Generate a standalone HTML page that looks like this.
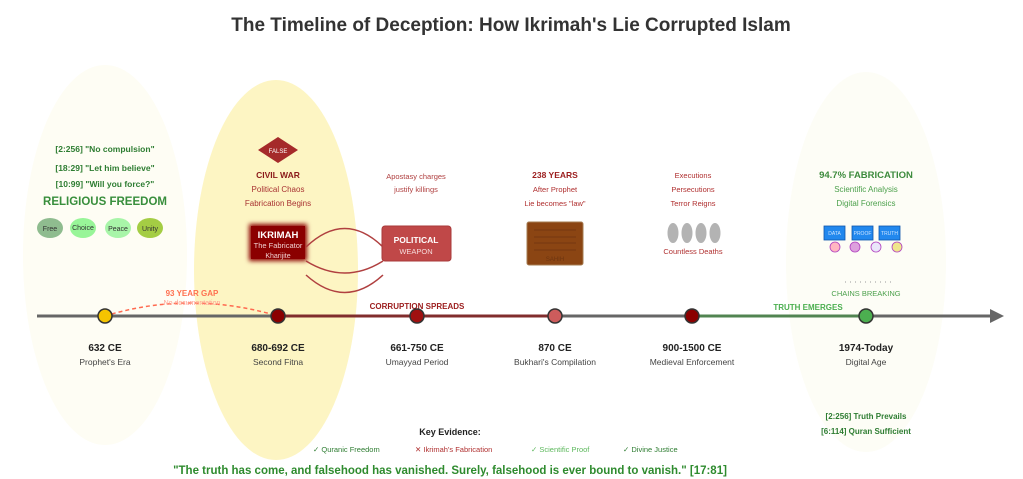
<!DOCTYPE html>
<html><head><meta charset="utf-8"><style>
html,body{margin:0;padding:0;background:#fff;}
svg{display:block;font-family:"Liberation Sans",sans-serif;}
</style></head><body>
<svg width="1023" height="479" viewBox="0 0 1023 479" xmlns="http://www.w3.org/2000/svg">
<defs>
<filter id="glow" x="-30%" y="-30%" width="160%" height="160%"><feGaussianBlur stdDeviation="2.5"/></filter>
</defs>
<rect width="1023" height="479" fill="#fff"/>
<text x="511" y="31" text-anchor="middle" font-size="19" font-weight="bold" fill="#333">The Timeline of Deception: How Ikrimah's Lie Corrupted Islam</text>
<ellipse cx="105" cy="255" rx="82" ry="190" fill="#fefdf4"/>
<ellipse cx="276" cy="270" rx="82" ry="190" fill="#fdf5c3"/>
<ellipse cx="866" cy="262" rx="80" ry="190" fill="#fdfdf6"/>
<!-- timeline -->
<line x1="37" y1="316" x2="992" y2="316" stroke="#666" stroke-width="3"/>
<polygon points="990,309 1004,316 990,323" fill="#666"/>
<line x1="278" y1="316" x2="555" y2="316" stroke="#8b1a1a" stroke-width="3" opacity="0.75"/>
<line x1="692" y1="316" x2="866" y2="316" stroke="#4a8f4a" stroke-width="3" opacity="0.75"/>
<path d="M105 316 Q190 290 278 316" fill="none" stroke="#ff6a50" stroke-width="1.5" stroke-dasharray="4,3"/>
<text x="192" y="296" text-anchor="middle" font-size="8" font-weight="bold" fill="#ff7050">93 YEAR GAP</text>
<text x="192" y="305" text-anchor="middle" font-size="7" fill="#ffa090">No documentation</text>
<text x="417" y="309" text-anchor="middle" font-size="8" font-weight="bold" fill="#9b1c1c">CORRUPTION SPREADS</text>
<text x="808" y="310" text-anchor="middle" font-size="8" font-weight="bold" fill="#4caf50">TRUTH EMERGES</text>
<g stroke="#333" stroke-width="1.5">
<circle cx="105" cy="316" r="7" fill="#f5c400"/>
<circle cx="278" cy="316" r="7" fill="#8b0000"/>
<circle cx="417" cy="316" r="7" fill="#a01010"/>
<circle cx="555" cy="316" r="7" fill="#cd5c5c"/>
<circle cx="692" cy="316" r="7" fill="#8b0000"/>
<circle cx="866" cy="316" r="7" fill="#4caf50"/>
</g>
<g text-anchor="middle" fill="#222">
<g font-size="10" font-weight="bold">
<text x="105" y="351">632 CE</text><text x="278" y="351">680-692 CE</text><text x="417" y="351">661-750 CE</text>
<text x="555" y="351">870 CE</text><text x="692" y="351">900-1500 CE</text><text x="866" y="351">1974-Today</text>
</g>
<g font-size="8.5" fill="#444">
<text x="105" y="365">Prophet's Era</text><text x="278" y="365">Second Fitna</text><text x="417" y="365">Umayyad Period</text>
<text x="555" y="365">Bukhari's Compilation</text><text x="692" y="365">Medieval Enforcement</text><text x="866" y="365">Digital Age</text>
</g>
</g>
<!-- left -->
<g text-anchor="middle" fill="#2e7d32" font-weight="bold" font-size="8.5">
<text x="105" y="152">[2:256] "No compulsion"</text>
<text x="105" y="171">[18:29] "Let him believe"</text>
<text x="105" y="187">[10:99] "Will you force?"</text>
<text x="105" y="205" font-size="11.5" fill="#388e3c">RELIGIOUS FREEDOM</text>
</g>
<ellipse cx="50" cy="228" rx="13" ry="10" fill="#8fbc8f"/>
<ellipse cx="83" cy="228" rx="13" ry="10" fill="#98f598"/>
<ellipse cx="118" cy="228" rx="13" ry="10" fill="#a8f5a8"/>
<ellipse cx="150" cy="228" rx="13" ry="10" fill="#a4cd44"/>
<g text-anchor="middle" font-size="7" fill="#333">
<text x="50" y="231">Free</text><text x="83" y="230">Choice</text><text x="118" y="231">Peace</text><text x="150" y="231">Unity</text>
</g>
<!-- fitna -->
<polygon points="278,137 298,150 278,163 258,150" fill="#a52a2a"/>
<text x="278" y="153" text-anchor="middle" font-size="6" fill="#fff">FALSE</text>
<text x="278" y="178" text-anchor="middle" font-size="8.5" font-weight="bold" fill="#8b1a1a">CIVIL WAR</text>
<text x="278" y="192" text-anchor="middle" font-size="8" fill="#a83232">Political Chaos</text>
<text x="278" y="206" text-anchor="middle" font-size="8" fill="#a83232">Fabrication Begins</text>
<rect x="249" y="224" width="58" height="37" fill="#8b0000" filter="url(#glow)"/>
<rect x="251" y="226" width="54" height="33" fill="#8b0000"/>
<text x="278" y="238" text-anchor="middle" font-size="9.5" font-weight="bold" fill="#fff">IKRIMAH</text>
<text x="278" y="248" text-anchor="middle" font-size="7.5" fill="#f0d0d0">The Fabricator</text>
<text x="278" y="258" text-anchor="middle" font-size="7" fill="#f0d0d0">Kharijite</text>
<g fill="none" stroke="#b04040" stroke-width="1.5">
<path d="M306 247 Q345 210 383 247"/>
<path d="M306 261 Q345 285 383 261"/>
<path d="M306 275 Q345 310 383 275"/>
</g>
<rect x="382" y="226" width="69" height="35" rx="3" fill="#c04848" stroke="#a83a3a"/>
<text x="416" y="243" text-anchor="middle" font-size="8.5" font-weight="bold" fill="#fff">POLITICAL</text>
<text x="416" y="254" text-anchor="middle" font-size="7.5" fill="#f5dada">WEAPON</text>
<text x="416" y="179" text-anchor="middle" font-size="7.5" fill="#b04040">Apostasy charges</text>
<text x="416" y="192" text-anchor="middle" font-size="7.5" fill="#b04040">justify killings</text>
<!-- 870 -->
<text x="555" y="178" text-anchor="middle" font-size="8.5" font-weight="bold" fill="#9b1c1c">238 YEARS</text>
<text x="555" y="192" text-anchor="middle" font-size="7.5" fill="#b03030">After Prophet</text>
<text x="555" y="206" text-anchor="middle" font-size="7.5" fill="#b03030">Lie becomes "law"</text>
<rect x="527" y="222" width="56" height="43" rx="2" fill="#8b4513" stroke="#a67c52"/>
<g stroke="#6e3510" stroke-width="0.8"><line x1="534" y1="230" x2="576" y2="230"/><line x1="534" y1="237" x2="576" y2="237"/><line x1="534" y1="243" x2="576" y2="243"/><line x1="534" y1="250" x2="576" y2="250"/></g>
<text x="555" y="261" text-anchor="middle" font-size="6" fill="#6e3510">SAHIH</text>
<!-- medieval -->
<g text-anchor="middle" font-size="7.5" fill="#b03030">
<text x="693" y="178">Executions</text><text x="693" y="192">Persecutions</text><text x="693" y="206">Terror Reigns</text>
<text x="693" y="254">Countless Deaths</text>
</g>
<g fill="#b3b3b3"><ellipse cx="673" cy="233" rx="5.5" ry="10"/><ellipse cx="687" cy="233" rx="5.5" ry="10"/><ellipse cx="701" cy="233" rx="5.5" ry="10"/><ellipse cx="715" cy="233" rx="5.5" ry="10"/></g>
<!-- digital -->
<text x="866" y="178" text-anchor="middle" font-size="9.5" font-weight="bold" fill="#3d8b3d">94.7% FABRICATION</text>
<text x="866" y="192" text-anchor="middle" font-size="8" fill="#4ca04c">Scientific Analysis</text>
<text x="866" y="206" text-anchor="middle" font-size="8" fill="#4ca04c">Digital Forensics</text>
<g fill="#2288ee" stroke="#1155aa" stroke-width="0.8">
<rect x="824" y="226" width="21" height="14"/><rect x="852" y="226" width="21" height="14"/><rect x="879" y="226" width="21" height="14"/>
</g>
<g text-anchor="middle" font-size="5" fill="#cce4ff"><text x="834.5" y="235">DATA</text><text x="862.5" y="235">PROOF</text><text x="889.5" y="235">TRUTH</text></g>
<g stroke="#b040c0" stroke-width="0.8">
<circle cx="835" cy="247" r="5" fill="#ffb6c1"/><circle cx="855" cy="247" r="5" fill="#dda0dd"/><circle cx="876" cy="247" r="5" fill="#eae6fa"/><circle cx="897" cy="247" r="5" fill="#f0e68c"/>
</g>
<line x1="845" y1="282" x2="895" y2="282" stroke="#999" stroke-width="1" stroke-dasharray="1,4"/>
<text x="866" y="296" text-anchor="middle" font-size="7.5" fill="#4ca04c">CHAINS BREAKING</text>
<text x="866" y="419" text-anchor="middle" font-size="8" font-weight="bold" fill="#2e7d32">[2:256] Truth Prevails</text>
<text x="866" y="434" text-anchor="middle" font-size="8" font-weight="bold" fill="#2e7d32">[6:114] Quran Sufficient</text>
<!-- key evidence -->
<text x="450" y="435" text-anchor="middle" font-size="9" font-weight="bold" fill="#222">Key Evidence:</text>
<g font-size="7.5">
<text x="313" y="452" fill="#2e7d32">✓ Quranic Freedom</text>
<text x="415" y="452" fill="#b03030">✕ Ikrimah's Fabrication</text>
<text x="531" y="452" fill="#5cb85c">✓ Scientific Proof</text>
<text x="623" y="452" fill="#2e7d32">✓ Divine Justice</text>
</g>
<text x="450" y="474" text-anchor="middle" font-size="11.5" font-weight="bold" fill="#2e8b2e">"The truth has come, and falsehood has vanished. Surely, falsehood is ever bound to vanish." [17:81]</text>
</svg>
</body></html>
